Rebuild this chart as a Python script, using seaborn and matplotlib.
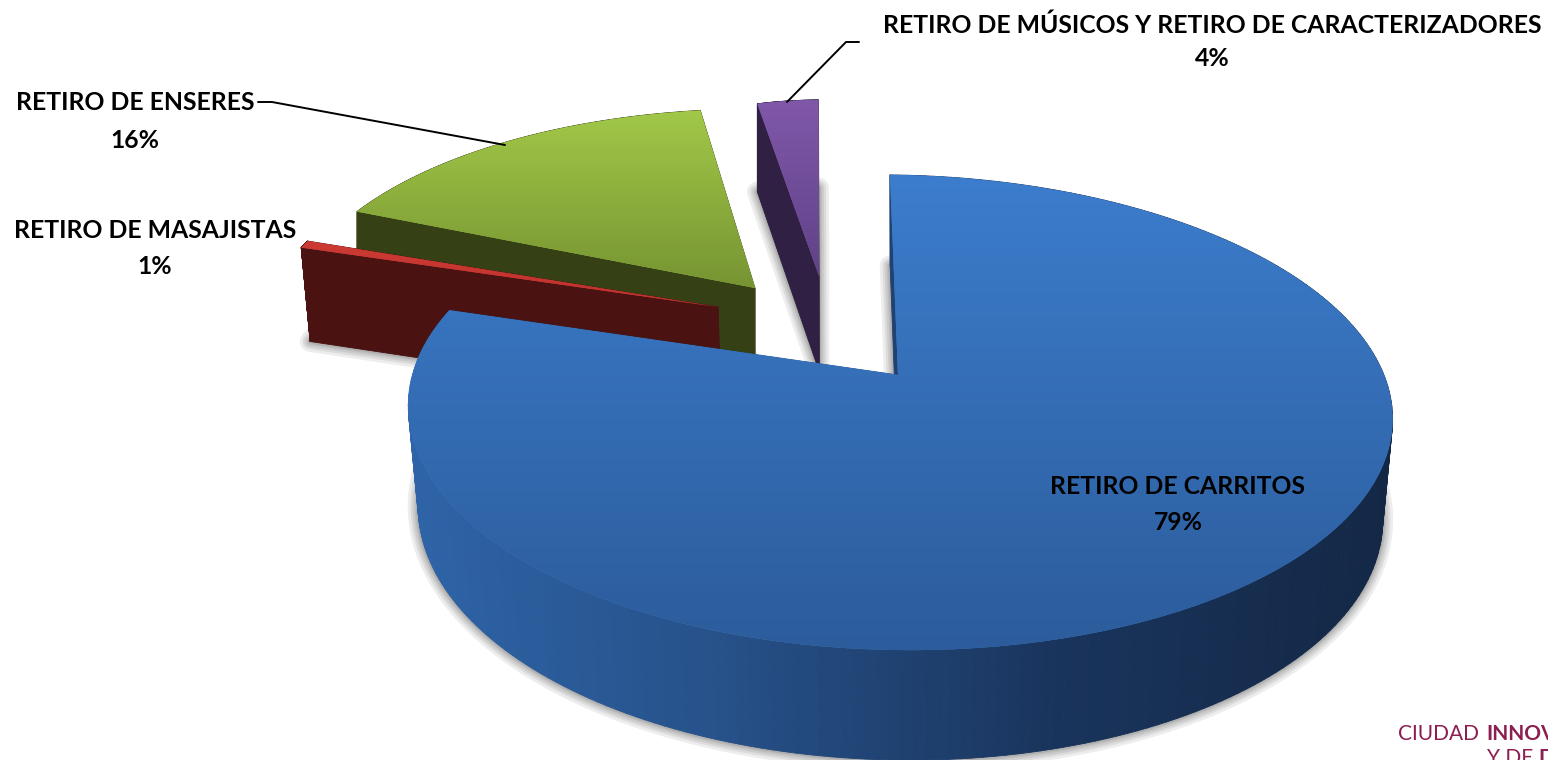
import numpy as np
import matplotlib
matplotlib.use("Agg")
import matplotlib.pyplot as plt
import matplotlib.transforms as mtransforms
from matplotlib.collections import PolyCollection
from matplotlib.patches import Polygon
import seaborn as sns

# ---------- data ----------
categories = ["RETIRO DE CARRITOS", "RETIRO DE MASAJISTAS", "RETIRO DE ENSERES",
              "RETIRO DE MÚSICOS Y RETIRO DE CARACTERIZADORES"]
shares = [79.49, 0.55, 16.4, 3.56]
pct_labels = ["79%", "1%", "16%", "4%"]

# ---------- style ----------
sns.set_theme(style="white")
plt.rcParams["font.family"] = ["Lato", "DejaVu Sans"]


def rgb(*c):
    return tuple(v / 255 for v in c)


top_grad = [(rgb(60, 125, 205), rgb(44, 92, 155)),
            (rgb(205, 58, 52), rgb(190, 50, 45)),
            (rgb(162, 200, 72), rgb(118, 148, 50)),
            (rgb(128, 88, 170), rgb(96, 66, 135))]
side_pal = [[rgb(46, 100, 168), rgb(38, 80, 135), rgb(25, 52, 92), rgb(20, 40, 70)],
            [rgb(82, 22, 20), rgb(66, 16, 15)],
            [rgb(58, 70, 24), rgb(48, 58, 18)],
            [rgb(52, 36, 74), rgb(44, 30, 62)]]
# how each exploded slice sits in the 3-D view
apex = [(898, 375), (718, 307), (755, 288), (819, 276)]
scale_x = [1.0, 0.935, 0.945, 0.655]
scale_y = [1.0, 0.94, 0.895, 0.88]
turn_deg = [0.0, 1.5, 6.0, 1.0]      # apparent turn caused by the camera
tilt = [7.0, 0.0, 0.0, 0.0]          # left side of the disc sits higher than the right
bulge = [2.5, 0.0, 0.0, 0.0]
base_x = [0.98, 0.985, 1.0, 1.0]     # horizontal shrink of the base towards x=900
layer = [40, 30, 20, 10]
R, S, K = 486.0, 231.6, 0.158


class Persp(mtransforms.Transform):
    input_dims = output_dims = 2
    is_separable = False
    has_inverse = False

    def __init__(self, i):
        super().__init__()
        self.i = i

    def transform_non_affine(self, values):
        i = self.i
        v = np.asarray(values, float)
        a = np.radians(turn_deg[i])
        x = v[:, 0] * np.cos(a) + v[:, 1] * np.sin(a)
        y = -v[:, 0] * np.sin(a) + v[:, 1] * np.cos(a)
        w = 1 + K * y
        return np.column_stack([
            apex[i][0] + scale_x[i] * R * x / w + bulge[i] * x ** 2,
            apex[i][1] - scale_y[i] * S * y / w + tilt[i] * x])


def extrude(p, i):
    return np.column_stack([900 + base_x[i] * (p[:, 0] - 900), 1.04 * p[:, 1] + 84])


fig = plt.figure(figsize=(15.48, 7.6), dpi=100, facecolor="white")
ax = fig.add_axes([0, 0, 1, 1])
wedges, _ = ax.pie(shares, startangle=91.1, counterclock=False, radius=1,
                   wedgeprops=dict(linewidth=0))
ax.set_aspect("auto")
ax.axis("off")

for i, wedge in enumerate(wedges):
    tr = Persp(i)
    z = layer[i]
    t = np.radians(np.linspace(wedge.theta1, wedge.theta2, 240))
    plane = np.vstack([[0, 0], np.column_stack([np.cos(t), np.sin(t)]), [0, 0]])
    top = tr.transform_non_affine(plane)
    bot = extrude(top, i)

    # soft shadow from the base of the slice
    for lw in (15, 11, 8, 5, 3):
        ax.add_patch(Polygon(bot, closed=True, facecolor=(0, 0, 0, 0.07),
                             edgecolor=(0, 0, 0, 0.07), linewidth=lw,
                             joinstyle="round", zorder=z))

    # side walls
    cmap = sns.blend_palette(side_pal[i], as_cmap=True)
    quads = [np.array([top[k], top[k + 1], bot[k + 1], bot[k]]) for k in range(len(top) - 1)]
    xm = np.array([q[:, 0].mean() for q in quads])
    lo, hi = (410, 1385) if i == 0 else (top[:, 0].min(), top[:, 0].max() + 1)
    cols = cmap(np.clip((xm - lo) / (hi - lo), 0, 1))
    ax.add_collection(PolyCollection(quads, facecolors=cols, edgecolors=cols,
                                     linewidths=0.6, zorder=z + 1))

    # top face: the pie wedge itself, warped, with a vertical gradient clipped to it
    wedge.set_transform(tr + ax.transData)
    wedge.set_facecolor(top_grad[i][0])
    wedge.set_zorder(z + 2)
    y0, y1 = top[:, 1].min(), top[:, 1].max()
    c0, c1 = top_grad[i]
    f = np.linspace(0, 1, 256)[:, None, None]
    grad = np.array(c0)[None, None, :] * (1 - f) + np.array(c1)[None, None, :] * f
    im = ax.imshow(grad, extent=(top[:, 0].min() - 2, top[:, 0].max() + 2, y1, y0),
                   aspect="auto", zorder=z + 3, interpolation="bilinear")
    im.set_clip_path(wedge)

ax.set_xlim(0, 1548)
ax.set_ylim(760, 0)

# ---------- labels ----------
fs = 17.8
label_pos = [(1178, 486, 522), (155, 231, 267), (135, 103, 141), (1212, 25, 59)]
for name, pct, (x, y1, y2) in zip(categories, pct_labels, label_pos):
    ax.text(x, y1, name, ha="center", va="center", fontsize=fs, fontweight="bold",
            color="black", zorder=100)
    ax.text(x, y2, pct, ha="center", va="center", fontsize=fs, fontweight="bold",
            color="black", zorder=100)

# leader lines
ax.plot([258, 272, 505], [102, 102, 145], color="black", lw=1.4, zorder=90)
ax.plot([859, 846, 787], [42, 42, 102], color="black", lw=1.4, zorder=90)

# logo fragment in the corner
maroon = rgb(140, 30, 80)
ax.text(1398, 734, "CIUDAD", ha="left", va="center", fontsize=15, color=maroon, zorder=100)
ax.text(1486, 734, "INNOV", ha="left", va="center", fontsize=15, fontweight="bold",
        color=maroon, zorder=100)
ax.text(1487, 758, "Y DE", ha="left", va="center", fontsize=15, color=maroon, zorder=100)
ax.text(1538, 758, "D", ha="left", va="center", fontsize=15, fontweight="bold",
        color=maroon, zorder=100)

fig.savefig("out.png", dpi=100, facecolor="white")
